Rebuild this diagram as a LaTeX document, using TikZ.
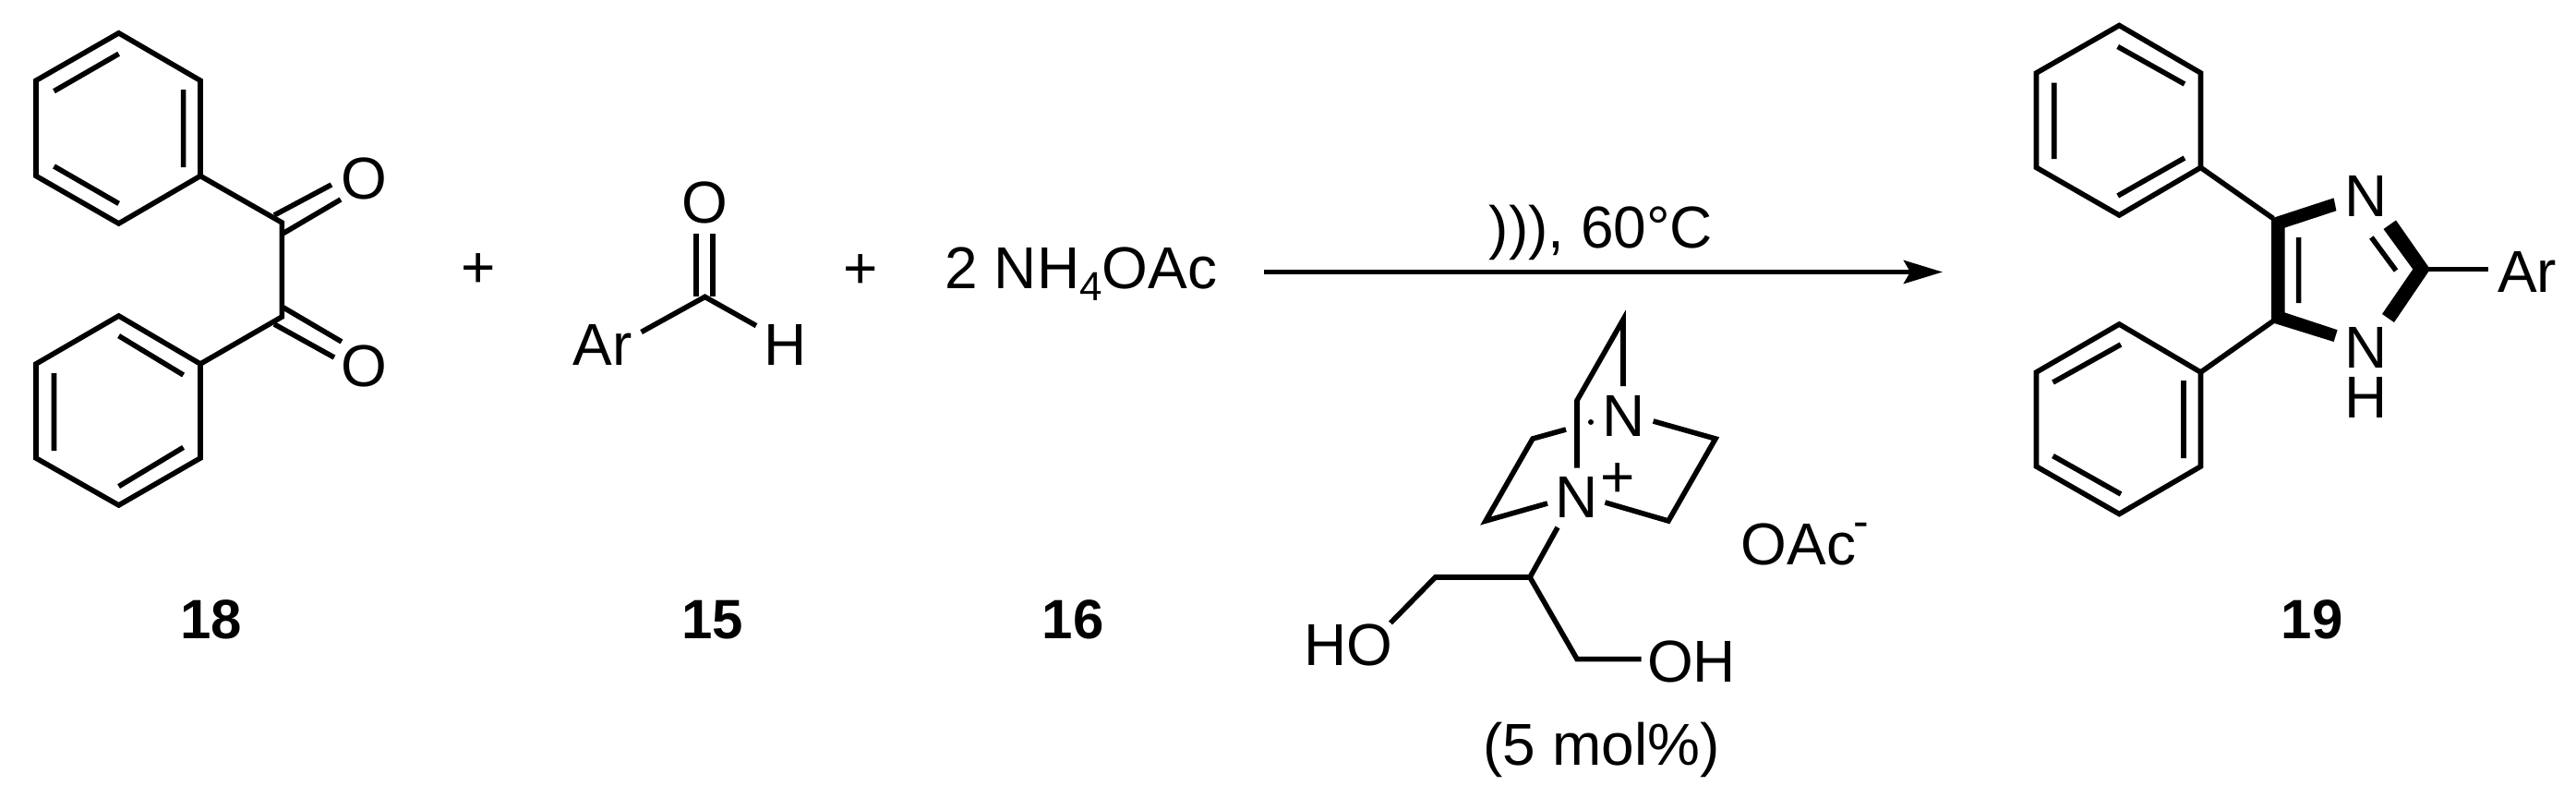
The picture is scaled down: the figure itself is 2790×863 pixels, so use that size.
\documentclass[tikz,border=0pt]{standalone}
\usepackage{fontspec}
\setmainfont{Liberation Sans}
\usetikzlibrary{arrows.meta}
\tikzset{
  bond/.style={line width=5.6pt,line join=miter,line cap=butt},
  boldbond/.style={fill=black,draw=none},
  atom/.style={inner sep=0pt,outer sep=0pt,anchor=base,font=\fontsize{64}{70}\selectfont},
  tag/.style={inner sep=0pt,outer sep=0pt,anchor=base,font=\fontsize{60}{70}\selectfont\bfseries},
  rxnarrow/.style={line width=5.6pt,-{Stealth[length=42pt,width=25pt,inset=7pt]}}
}
\begin{document}
\begin{tikzpicture}[x=1pt,y=-1pt]
\useasboundingbox (0,0) rectangle (2790,863);
% --- benzil 18
\coordinate (a1) at (128.6,35.8); \coordinate (a2) at (217,87.2); \coordinate (a3) at (217,190.5);
\coordinate (a4) at (128.6,242); \coordinate (a5) at (39,190.5); \coordinate (a6) at (39,87.2);
\draw[bond] (a1)--(a2)--(a3)--(a4)--(a5)--(a6)--cycle;
\draw[bond] (198.6,97)--(198.6,181) (58.5,98.7)--(128.6,58.3) (58.5,180)--(128.6,220.4);
\coordinate (b1) at (128.6,342); \coordinate (b2) at (217,394); \coordinate (b3) at (217,496);
\coordinate (b4) at (128.6,547); \coordinate (b5) at (39,496); \coordinate (b6) at (39,394);
\draw[bond] (b1)--(b2)--(b3)--(b4)--(b5)--(b6)--cycle;
\draw[bond] (58.5,404)--(58.5,488) (128.6,363.6)--(198.6,406) (128.6,526.6)--(198.6,484.4);
\coordinate (c1) at (305.4,241); \coordinate (c2) at (305.4,343);
\draw[bond] (a3)--(c1)--(c2)--(b2);
\draw[bond] (297,233)--(359,200) (307,252.5)--(369,216) (297,351)--(362,387) (307,333)--(370,370);
\node[atom] (o1) at (394,215) {O};
\node[atom] (o2) at (394,418.7) {O};
\node[atom] (plus1) at (518,311) {+};
\node[tag] (l18) at (228.5,691) {18};
% --- aldehyde 15
\coordinate (d1) at (763.5,321.4); \coordinate (d2) at (694.6,359.5); \coordinate (d3) at (819,352.6);
\draw[bond] (d2)--(d1)--(d3);
\draw[bond] (754,253.4)--(754,321) (772,253.4)--(772,321);
\node[atom] (o3) at (763.5,241) {O};
\node[atom] (ar1) at (652.7,395.8) {Ar};
\node[atom] (h1) at (851,395.8) {H};
\node[tag] (l15) at (772,691) {15};
\node[atom] (plus2) at (932,312.7) {+};
% --- NH4OAc 16
\node[atom] (nh4) at (1171,312.7) {2 NH\raisebox{-13pt}{\fontsize{44}{50}\selectfont 4}OAc};
\node[tag] (l16) at (1162,691) {16};
% --- arrow
\coordinate (s) at (1369,294.5); \coordinate (t) at (2104,294.5);
\draw[rxnarrow] (s)--(t);
\node[atom] (cond) at (1734,268) {))), 60°C};
% --- catalyst
\coordinate (e1) at (1758,346); \coordinate (e2) at (1758,418); \coordinate (e3) at (1708,433.6);
\coordinate (e4) at (1708,506.5);
\draw[bond,line join=miter] (e2)--(e1)--(e3)--(e4);
\coordinate (f1) at (1790.6,456); \coordinate (f2) at (1858,475); \coordinate (f3) at (1807,564); \coordinate (f4) at (1738.4,544);
\draw[bond] (f1)--(f2)--(f3)--(f4);
\coordinate (g1) at (1696,465); \coordinate (g2) at (1660,475); \coordinate (g3) at (1609,564); \coordinate (g4) at (1676,545);
\draw[bond] (g1)--(g2)--(g3)--(g4);
\coordinate (k1) at (1687,571); \coordinate (k2) at (1657,625); \coordinate (k3) at (1554.5,625); \coordinate (k4) at (1506,674.5);
\coordinate (k5) at (1708,713.6); \coordinate (k6) at (1777.7,713.6);
\draw[bond] (k1)--(k2)--(k3)--(k4);
\draw[bond] (k2)--(k5)--(k6);
\fill (1723,457) circle (3pt);
\node[atom] (nu) at (1758.5,472) {N};
\node[atom] (np) at (1708,560) {N};
\node[atom,anchor=center] (plus3) at (1752,520) {+};
\node[atom] (ho) at (1460,720.8) {HO};
\node[atom] (oh) at (1832,738) {OH};
\node[atom] (oac) at (1948,611.7) {OAc};
\node[atom,anchor=center,font=\fontsize{50}{54}\selectfont] (minus) at (2016,574) {-};
\node[atom] (mol) at (1734.5,828) {(5 mol\%)};
% --- product 19
\coordinate (p1) at (2295.3,27.5); \coordinate (p2) at (2383.5,79); \coordinate (p3) at (2383.5,181.4);
\coordinate (p4) at (2295.3,233); \coordinate (p5) at (2205.5,181.4); \coordinate (p6) at (2205.5,79);
\draw[bond] (p1)--(p2)--(p3)--(p4)--(p5)--(p6)--cycle;
\draw[bond] (2293.7,50.5)--(2366,91) (2224.7,89.5)--(2224.7,172) (2293.7,212)--(2366,171);
\coordinate (q1) at (2295.3,351); \coordinate (q2) at (2383.5,403); \coordinate (q3) at (2383.5,505);
\coordinate (q4) at (2295.3,556.5); \coordinate (q5) at (2205.5,505); \coordinate (q6) at (2205.5,403);
\draw[bond] (q1)--(q2)--(q3)--(q4)--(q5)--(q6)--cycle;
\draw[bond] (2223.5,414)--(2297,373) (2365,412)--(2365,496) (2223.5,493.6)--(2297,535);
\coordinate (r1) at (2462,236.5); \coordinate (r2) at (2462,347.6);
\draw[bond] (p3)--(r1) (q2)--(r2);
\fill[boldbond] (2460,236.5)--(2527.6,214.4)--(2530.4,228.2)--(2474.5,246.6)--(2474.5,338.4)--(2531.6,357.2)--(2527.6,370)--(2460,349)--cycle;
\fill[boldbond] (2595,238.5)--(2632,291.5)--(2593,349)--(2580,340)--(2613.3,291.5)--(2581.5,248)--cycle;
\draw[bond] (2489.6,257)--(2489.6,328) (2568.4,257)--(2595,293);
\coordinate (u1) at (2628,291.5); \coordinate (u2) at (2695,291.5);
\draw[bond] (u1)--(u2);
\node[atom] (n1) at (2563,234) {N};
\node[atom] (n2) at (2563,398.5) {N};
\node[atom] (h2) at (2563,452) {H};
\node[atom] (ar2) at (2737,316.8) {Ar};
\node[tag] (l19) at (2504,691) {19};
\end{tikzpicture}
\end{document}
